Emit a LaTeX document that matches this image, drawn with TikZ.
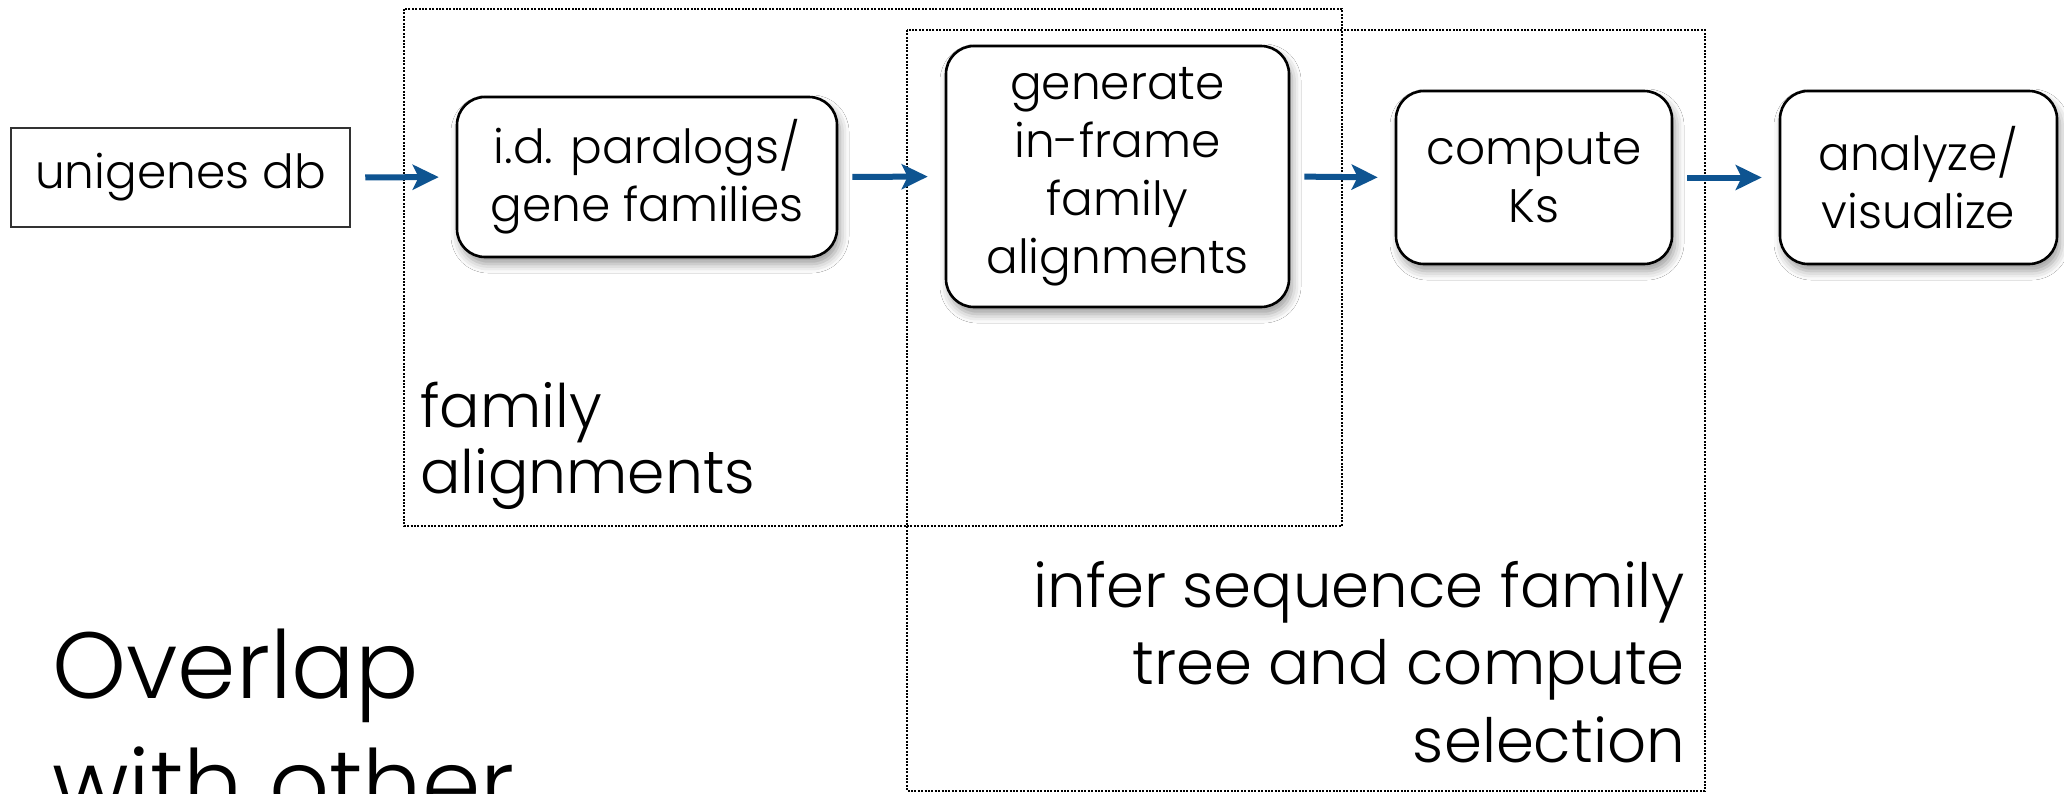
\documentclass[tikz,border=0pt]{standalone}
\usepackage{fontspec}
\setmainfont{Poppins}[UprightFont={* Light}]
\usetikzlibrary{arrows.meta,shadows.blur}
\definecolor{arrowblue}{RGB}{14,84,145}
\definecolor{boxgray}{RGB}{50,50,50}
\tikzset{
  stepbox/.style={draw=black, line width=2.6pt, rounded corners=28pt, fill=white,
    align=center, inner sep=0pt,
    blur shadow={shadow xshift=3pt, shadow yshift=-7pt, shadow blur radius=9pt, shadow opacity=40},
    font=\fontsize{47}{58}\selectfont},
  plainbox/.style={draw=boxgray, line width=2pt, fill=white, align=center, inner sep=0pt,
    font=\fontsize{47}{58}\selectfont},
  flow/.style={draw=arrowblue, line width=6pt, -{Stealth[length=26pt,width=25pt,inset=6pt]},
    shorten <=14pt, shorten >=17pt},
  groupbox/.style={draw=black, line width=1.6pt, dash pattern=on 2pt off 1.4pt},
  grouplabel/.style={font=\fontsize{60}{66}\selectfont, inner sep=0pt}
}
\begin{document}
\begin{tikzpicture}[x=1pt, y=-1pt]
\clip (0,0) rectangle (2064,793);
\fill[white] (0,0) rectangle (2064,793);

% group frames
\draw[groupbox] (404,9) rectangle (1342,526);
\draw[groupbox] (907,30) rectangle (1705,791);

% nodes
\node[plainbox, minimum width=339.5pt, minimum height=99pt] (db) at (180.5,177.5) {unigenes db};
\node[stepbox, minimum width=380pt, minimum height=160pt] (para) at (647,177) {i.d. paralogs/\\gene families};
\node[stepbox, minimum width=343pt, minimum height=261pt] (gen) at (1117.5,176.5) {generate\\in-frame\\family\\alignments};
\node[stepbox, minimum width=276pt, minimum height=173pt] (ks) at (1534,177.5) {compute\\Ks};
\node[stepbox, minimum width=277pt, minimum height=173pt] (viz) at (1918.5,177.5) {analyze/\\visualize};

% connectors
\draw[flow] (db.east) -- (para.west);
\draw[flow] (para.east) -- (gen.west);
\draw[flow] (gen.east) -- (ks.west);
\draw[flow] (ks.east) -- (viz.west);

% labels (base anchor = baseline of last line)
\node[grouplabel, align=left, anchor=base west] (famlab) at (420,493) {family\\alignments};
\node[grouplabel, align=right, anchor=base east, font=\fontsize{61}{77.5}\selectfont] (inflab) at (1685,762) {infer sequence family\\tree and compute\\selection};
\node[inner sep=0pt, align=left, anchor=base west, font=\fontsize{94}{119}\selectfont] (overlap) at (52,817) {Overlap\\with other};
\end{tikzpicture}
\end{document}
